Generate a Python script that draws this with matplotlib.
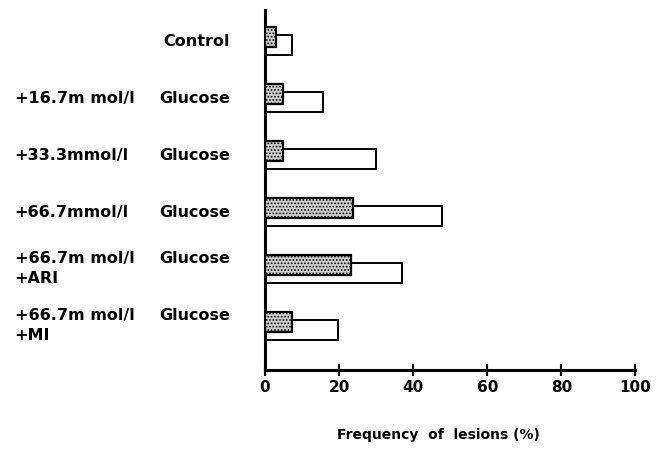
import matplotlib
matplotlib.use("Agg")
import matplotlib.pyplot as plt

# groups from top to bottom
prefixes = ["", "+16.7m mol/l", "+33.3mmol/l", "+66.7mmol/l", "+66.7m mol/l", "+66.7m mol/l"]
mains = ["Control", "Glucose", "Glucose", "Glucose", "Glucose", "Glucose"]
extras = ["", "", "", "", "+ARI", "+MI"]

shaded_vals = [3.1, 4.9, 5.0, 23.8, 23.2, 7.2]
open_vals = [7.2, 15.6, 29.9, 47.8, 37.0, 19.8]

xticks = [0, 20, 40, 60, 80, 100]

plt.rcParams['font.family'] = ['DejaVu Sans']
plt.rcParams['hatch.linewidth'] = 0.8

fig = plt.figure(figsize=(6.64, 4.49), dpi=100)
ax = fig.add_axes([0.399, 0.176, 0.558, 0.802])

n = len(mains)
ypos = [n - 1 - i for i in range(n)]
h = 0.35
off = 0.07

ax.barh([y - off for y in ypos], open_vals, height=h, color="white",
        edgecolor="black", linewidth=1.4, zorder=2)
ax.barh([y + off for y in ypos], shaded_vals, height=h, color="#cfcfcf",
        edgecolor="black", linewidth=1.6, hatch=".....", zorder=3)

ax.set_xlim(0, 100)
ax.set_ylim(-0.77, 5.55)
ax.set_xticks(xticks)
ax.set_xticklabels([str(t) for t in xticks], fontsize=11, fontweight="bold")
ax.set_yticks([])
ax.tick_params(axis="x", direction="inout", length=8, width=1.5, pad=3)
for side in ["top", "right"]:
    ax.spines[side].set_visible(False)
for side in ["left", "bottom"]:
    ax.spines[side].set_linewidth(2.2)

ax.set_xlabel("Frequency  of  lesions (%)", fontsize=10, fontweight="bold",
              labelpad=24)
ax.xaxis.label.set_x((438 - 265) / 370.0)

# category labels on the left
tr = ax.get_yaxis_transform()
xl = (15 - 265) / 370.0
xr = (230 - 265) / 370.0
for y, p, m, e in zip(ypos, prefixes, mains, extras):
    dy = 0.19 if e else 0.0
    ax.text(xr, y + dy, m, transform=tr, ha="right", va="center",
            fontsize=11.5, fontweight="bold")
    if p:
        ax.text(xl, y + dy, p, transform=tr, ha="left", va="center",
                fontsize=11.5, fontweight="bold")
    if e:
        ax.text(xl, y - 0.16, e, transform=tr, ha="left", va="center",
                fontsize=11.5, fontweight="bold")

fig.savefig("out.png", dpi=100)
